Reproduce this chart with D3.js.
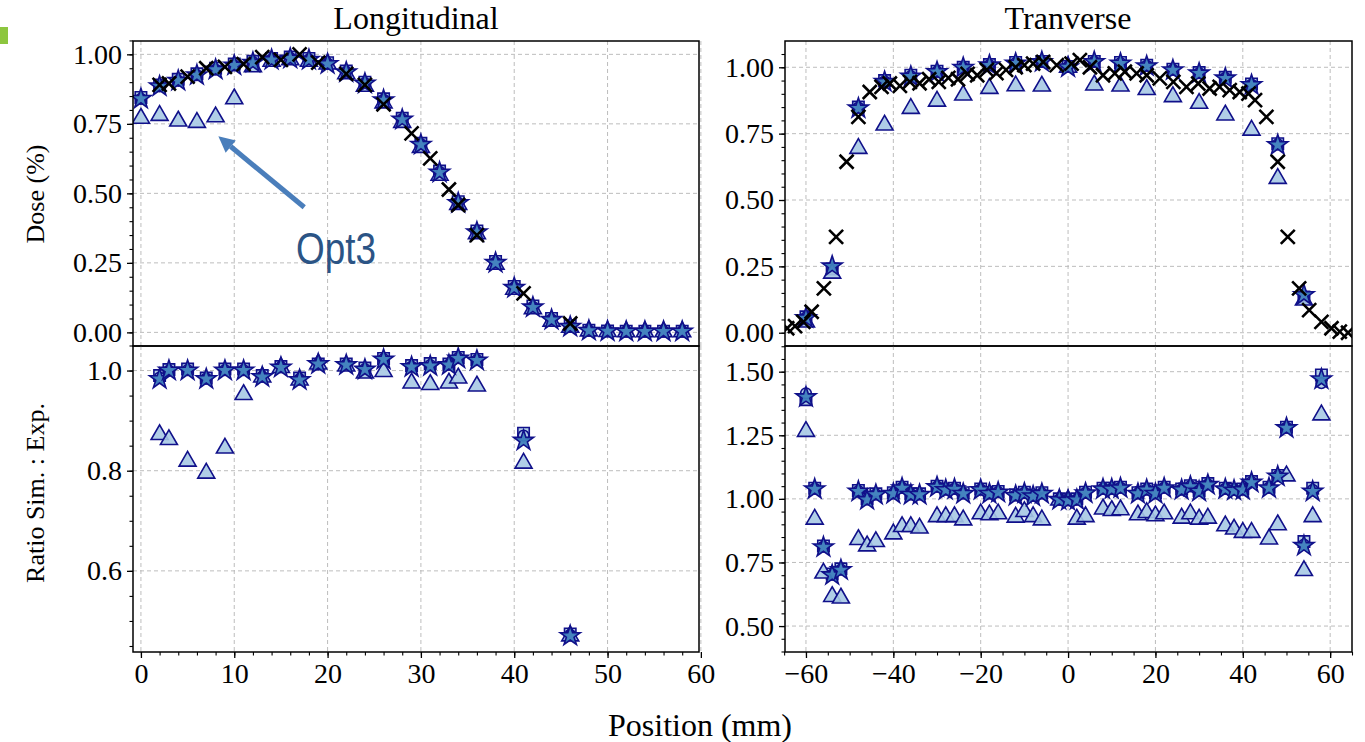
<!DOCTYPE html>
<html>
<head>
<meta charset="utf-8">
<script src="https://cdn.jsdelivr.net/npm/d3@7"></script>
<style>
body{margin:0;background:#fff;}
text{font-family:"Liberation Serif","Times New Roman",serif;fill:#000;}
</style>
</head>
<body>
<svg id="chart" width="1365" height="742"></svg>
<script>
// ---- data ----
var longSimPos=[0,2,4,6,8,10,12,14,16,18,20,22,24,26,28,30,32,34,36,38,40,42,44,46,48,50,52,54,56,58]
var longStar=[0.84,0.885,0.905,0.925,0.945,0.96,0.97,0.98,0.985,0.98,0.965,0.935,0.895,0.835,0.765,0.675,0.575,0.465,0.36,0.25,0.16,0.09,0.045,0.02,0.006,0.004,0.003,0.003,0.003,0.003]
var longSquare=[0.845,0.89,0.91,0.93,0.95,0.965,0.975,0.985,0.99,0.985,0.97,0.94,0.9,0.84,0.77,0.68,0.58,0.47,0.365,0.255,0.165,0.095,0.05,0.025,0.008,0.005,0.004,0.004,0.004,0.004]
var longCircle=[0.84,0.885,0.905,0.925,0.945,0.96,0.972,0.982,0.987,0.982,0.967,0.937,0.897,0.837,0.767,0.677,0.577,0.467,0.362,0.252,0.162,0.092,0.047,0.022,0.007,0.005,0.004,0.004,0.004,0.004]
var longTri=[0.77,0.78,0.76,0.755,0.775,0.84,0.955,0.975,0.98,0.975,0.965,0.93,0.885,0.825,0.755,0.665,0.565,0.46,0.355,0.245,0.155,0.085,0.04,0.018,0.005,0.003,0.002,0.002,0.002,0.002]
var longExpPos=[2,3,5,7,9,11,13,15,17,19,22,24,26,29,31,33,34,36,41,46]
var longExp=[0.89,0.895,0.92,0.95,0.955,0.965,0.99,0.98,1.0,0.97,0.93,0.89,0.82,0.716,0.626,0.514,0.458,0.35,0.14,0.032]

var longRatioStar=[0.983,1.0,1.0,0.983,1.0,1.0,0.987,1.006,0.981,1.013,1.011,1.002,1.022,1.007,1.009,1.011,1.024,1.02,0.86,0.47]
var longRatioSquare=[0.99,1.002,1.003,0.985,1.003,1.003,0.99,1.008,0.985,1.013,1.013,1.005,1.024,1.01,1.014,1.013,1.026,1.022,0.875,0.474]
var longRatioCircle=[0.986,1.0,1.001,0.984,1.001,1.001,0.988,1.007,0.983,1.013,1.012,1.003,1.023,1.008,1.011,1.012,1.025,1.021,0.87,0.472]
var longRatioTri=[0.872,0.862,0.819,0.795,0.845,0.952,0.987,1.006,0.981,1.013,1.009,0.995,0.998,0.975,0.972,0.975,0.985,0.969,0.815,0.47]

var trSimPos=[-60,-54,-48,-42,-36,-30,-24,-18,-12,-6,0,6,12,18,24,30,36,42,48,54]
var trStar=[0.055,0.25,0.845,0.945,0.965,0.982,0.998,1.007,1.014,1.02,1.0,1.02,1.014,1.004,0.989,0.977,0.958,0.933,0.707,0.142]
var trSquare=[0.06,0.24,0.85,0.95,0.97,0.985,1.0,1.01,1.018,1.022,1.003,1.022,1.018,1.008,0.993,0.98,0.962,0.937,0.712,0.135]
var trCircle=[0.058,0.245,0.848,0.947,0.967,0.984,0.999,1.008,1.016,1.021,1.002,1.021,1.016,1.006,0.991,0.978,0.96,0.935,0.71,0.138]
var trTri=[0.04,0.224,0.694,0.782,0.845,0.872,0.895,0.92,0.93,0.929,1.0,0.933,0.929,0.916,0.889,0.864,0.82,0.763,0.581,0.123]
var trExpPos=[-64.3,-62.5,-60.6,-58.7,-55.9,-53.1,-50.7,-48.0,-45.4,-42.7,-40.8,-38.5,-36.2,-34.0,-31.8,-29.6,-27.4,-25.2,-23.0,-20.8,-18.6,-16.4,-14.2,-12.0,-10.0,-8.0,-5.7,-2.6,0.8,2.7,5.0,8.0,10.7,13.0,15.7,18.0,21.0,24.1,27.1,29.8,32.4,34.7,37.0,39.3,41.3,42.8,45.4,48.0,50.3,52.9,55.2,58.0,60.3,62.2,64.1]
var trExp=[0.017,0.025,0.041,0.079,0.167,0.361,0.644,0.813,0.907,0.926,0.939,0.93,0.945,0.94,0.955,0.945,0.96,0.955,0.975,0.97,0.99,0.978,0.99,1.0,1.008,1.014,1.02,1.008,1.014,1.027,1.0,0.97,0.977,0.983,0.977,0.97,0.958,0.945,0.926,0.939,0.92,0.926,0.914,0.907,0.901,0.876,0.813,0.644,0.361,0.167,0.085,0.041,0.017,0.004,0.0]

var trRatioPos=[-60,-58,-56,-54,-52,-48,-46,-44,-40,-38,-36,-34,-30,-28,-26,-24,-20,-18,-16,-12,-10,-8,-6,-2,0,2,4,8,10,12,16,18,20,22,26,28,30,32,36,38,40,42,46,48,50,54,56,58]
var trRatioStar=[1.40,1.038,0.81,0.70,0.72,1.029,0.996,1.016,1.02,1.042,1.016,1.016,1.046,1.035,1.038,1.02,1.035,1.02,1.025,1.012,1.022,1.01,1.02,0.996,0.993,0.996,1.022,1.038,1.038,1.042,1.02,1.035,1.02,1.042,1.035,1.048,1.029,1.055,1.038,1.033,1.035,1.064,1.042,1.088,1.278,0.815,1.029,1.47]
var trRatioSquare=[1.39,1.042,0.815,0.705,0.725,1.033,1.0,1.02,1.024,1.046,1.02,1.02,1.05,1.039,1.042,1.024,1.039,1.024,1.029,1.016,1.026,1.014,1.024,1.0,0.997,1.0,1.026,1.042,1.042,1.046,1.024,1.039,1.024,1.046,1.039,1.052,1.033,1.06,1.042,1.037,1.039,1.068,1.046,1.092,1.282,0.832,1.042,1.487]
var trRatioCircle=[1.415,1.04,0.812,0.702,0.722,1.031,0.998,1.018,1.022,1.044,1.018,1.018,1.048,1.037,1.04,1.022,1.037,1.022,1.027,1.014,1.024,1.012,1.022,0.998,0.995,0.998,1.024,1.04,1.04,1.044,1.022,1.037,1.022,1.044,1.037,1.05,1.031,1.057,1.04,1.035,1.037,1.066,1.044,1.09,1.28,0.82,1.035,1.455]
var trRatioTri=[1.265,0.92,0.708,0.616,0.61,0.84,0.815,0.832,0.862,0.891,0.891,0.885,0.93,0.93,0.93,0.917,0.941,0.937,0.941,0.928,0.95,0.93,0.917,0.995,0.995,0.92,0.93,0.96,0.954,0.957,0.937,0.946,0.933,0.941,0.924,0.941,0.92,0.924,0.894,0.881,0.868,0.868,0.842,0.898,1.09,0.718,0.93,1.33]

var xTicksLong=[0,10,20,30,40,50,60]
var xTicksTr=[-60,-40,-20,0,20,40,60]

// ---- styles ----
var navy="#10108a"
var light="#a7c9e4"
var steel="#3f7fbd"

var svg=d3.select("#chart")

var zip=function(xs,ys){ return xs.map(function(x,i){return [x,ys[i]]}) }

// one panel: box, grid, ticks, markers
var panel=function(o){
  var g=svg.append("g")
  var x=d3.scaleLinear().domain(o.xdom).range([o.left,o.right])
  var y=d3.scaleLinear().domain(o.ydom).range([o.bottom,o.top])
  var id="clip"+Math.round(o.left)+"_"+Math.round(o.top)
  svg.append("clipPath").attr("id",id).append("rect")
    .attr("x",o.left).attr("y",o.top).attr("width",o.right-o.left).attr("height",o.bottom-o.top)

  // grid
  g.selectAll(".gx").data(o.xticks).enter().append("line")
    .attr("x1",function(d){return x(d)}).attr("x2",function(d){return x(d)})
    .attr("y1",o.top).attr("y2",o.bottom)
    .style("stroke","#b5b5b5").style("stroke-width",0.9).style("stroke-dasharray","4,3")
  g.selectAll(".gy").data(o.yticks).enter().append("line")
    .attr("y1",function(d){return y(d)}).attr("y2",function(d){return y(d)})
    .attr("x1",o.left).attr("x2",o.right)
    .style("stroke","#b5b5b5").style("stroke-width",0.9).style("stroke-dasharray","4,3")

  var pts=g.append("g").attr("clip-path","url(#"+id+")")
  var draw=function(data,type,size,fill,alpha){
    pts.append("g").selectAll("path").data(data).enter().append("path")
      .attr("transform",function(d){return "translate("+x(d[0])+","+y(d[1])+")"})
      .attr("d",d3.symbol().type(type).size(size))
      .style("fill",fill).style("fill-opacity",alpha)
      .style("stroke",navy).style("stroke-width",1.6)
  }
  draw(o.square,d3.symbolSquare,130,light,0.85)
  draw(o.circle,d3.symbolCircle,90,light,0.85)
  draw(o.tri,d3.symbolTriangle,125,light,0.9)
  draw(o.star,d3.symbolStar,125,steel,0.95)
  if(o.exp){
    var h=7
    pts.append("g").selectAll("path").data(o.exp).enter().append("path")
      .attr("transform",function(d){return "translate("+x(d[0])+","+y(d[1])+")"})
      .attr("d","M"+(-h)+","+(-h)+"L"+h+","+h+"M"+(-h)+","+h+"L"+h+","+(-h))
      .style("stroke","#000").style("stroke-width",2.6).style("fill","none")
  }

  // y axis
  var ya=d3.axisLeft(y).tickValues(o.yticks).tickFormat(d3.format(o.yfmt)).tickSize(6).tickPadding(5)
  var yg=g.append("g").attr("transform","translate("+o.left+",0)").call(ya)
  yg.select(".domain").remove()
  yg.selectAll("text").style("font-size","28px").style("font-family","Liberation Serif")
  yg.selectAll("line").style("stroke-width",1.3)
  var ym=d3.axisLeft(y).tickValues(o.yminor).tickFormat("").tickSize(3.5)
  var ymg=g.append("g").attr("transform","translate("+o.left+",0)").call(ym)
  ymg.select(".domain").remove()
  ymg.selectAll("line").style("stroke-width",1.1)

  if(o.showX){
    var xa=d3.axisBottom(x).tickValues(o.xticks).tickFormat(d3.format("d")).tickSize(6).tickPadding(5)
    var xg=g.append("g").attr("transform","translate(0,"+o.bottom+")").call(xa)
    xg.select(".domain").remove()
    xg.selectAll("text").style("font-size","28px").style("font-family","Liberation Serif")
    xg.selectAll("line").style("stroke-width",1.3)
    var xm=d3.axisBottom(x).tickValues(o.xminor).tickFormat("").tickSize(3.5)
    var xmg=g.append("g").attr("transform","translate(0,"+o.bottom+")").call(xm)
    xmg.select(".domain").remove()
    xmg.selectAll("line").style("stroke-width",1.1)
  }

  g.append("rect").attr("x",o.left).attr("y",o.top)
    .attr("width",o.right-o.left).attr("height",o.bottom-o.top)
    .style("fill","none").style("stroke","#000").style("stroke-width",1.5)
  return {x:x,y:y}
}

var rng=function(a,b,s){ var r=[]; for(var v=a;v<=b+1e-9;v+=s){r.push(+v.toFixed(3))} return r }

var L={left:133,right:699}, R={left:785,right:1352}
var top0=41, mid=346, bot=652

var tl=panel({left:L.left,right:L.right,top:top0,bottom:mid,xdom:[-0.85,59.8],ydom:[-0.049,1.048],
  xticks:xTicksLong,yticks:[0,0.25,0.5,0.75,1.0],yminor:rng(0,1.05,0.05),yfmt:".2f",
  star:zip(longSimPos,longStar),square:zip(longSimPos,longSquare),circle:zip(longSimPos,longCircle),
  tri:zip(longSimPos,longTri),exp:zip(longExpPos,longExp)})
panel({left:L.left,right:L.right,top:mid,bottom:bot,xdom:[-0.85,59.8],ydom:[0.438,1.049],
  xticks:xTicksLong,yticks:[0.6,0.8,1.0],yminor:rng(0.45,1.05,0.05),yfmt:".1f",showX:true,xminor:rng(0,58,2),
  star:zip(longExpPos,longRatioStar),square:zip(longExpPos,longRatioSquare),circle:zip(longExpPos,longRatioCircle),
  tri:zip(longExpPos,longRatioTri)})
panel({left:R.left,right:R.right,top:top0,bottom:mid,xdom:[-64.8,65],ydom:[-0.05,1.099],
  xticks:xTicksTr,yticks:[0,0.25,0.5,0.75,1.0],yminor:rng(0,1.05,0.05),yfmt:".2f",
  star:zip(trSimPos,trStar),square:zip(trSimPos,trSquare),circle:zip(trSimPos,trCircle),
  tri:zip(trSimPos,trTri),exp:zip(trExpPos,trExp)})
panel({left:R.left,right:R.right,top:mid,bottom:bot,xdom:[-64.8,65],ydom:[0.398,1.601],
  xticks:xTicksTr,yticks:[0.5,0.75,1.0,1.25,1.5],yminor:rng(0.4,1.6,0.05),yfmt:".2f",showX:true,xminor:rng(-65,65,5),
  star:zip(trRatioPos,trRatioStar),square:zip(trRatioPos,trRatioSquare),circle:zip(trRatioPos,trRatioCircle),
  tri:zip(trRatioPos,trRatioTri)})

// titles and labels
svg.append("text").attr("x",416).attr("y",29).attr("text-anchor","middle").style("font-size","32px").text("Longitudinal")
svg.append("text").attr("x",1068).attr("y",29).attr("text-anchor","middle").style("font-size","32px").text("Tranverse")
svg.append("text").attr("transform","translate(44,194) rotate(-90)").attr("text-anchor","middle").style("font-size","26px").text("Dose (%)")
svg.append("text").attr("transform","translate(44,493) rotate(-90)").attr("text-anchor","middle").style("font-size","26px").text("Ratio Sim. : Exp.")
svg.append("text").attr("x",700).attr("y",736).attr("text-anchor","middle").style("font-size","32px").text("Position (mm)")

// green marker top left
svg.append("rect").attr("x",0).attr("y",27).attr("width",8).attr("height",17).style("fill","#8dc63f")

// Opt3 annotation
var ax=tl.x, ay=tl.y
var x0=ax(17.5), y0=ay(0.45), x1=ax(8.3), y1=ay(0.705)
var ang=Math.atan2(y1-y0,x1-x0), hl=16, hw=8
var bx=x1-hl*Math.cos(ang), by=y1-hl*Math.sin(ang)
svg.append("line").attr("x1",x0).attr("y1",y0).attr("x2",bx).attr("y2",by)
  .style("stroke","#4a7ebb").style("stroke-width",5)
svg.append("path").attr("d","M"+x1+","+y1+"L"+(bx+hw*Math.sin(ang))+","+(by-hw*Math.cos(ang))+"L"+(bx-hw*Math.sin(ang))+","+(by+hw*Math.cos(ang))+"Z")
  .style("fill","#4a7ebb")
svg.append("text").attr("transform","translate(296,264) scale(0.82,1)")
  .style("font-family","Liberation Sans").style("font-size","45px").style("fill","#2b5485").text("Opt3")
</script>
</body>
</html>
